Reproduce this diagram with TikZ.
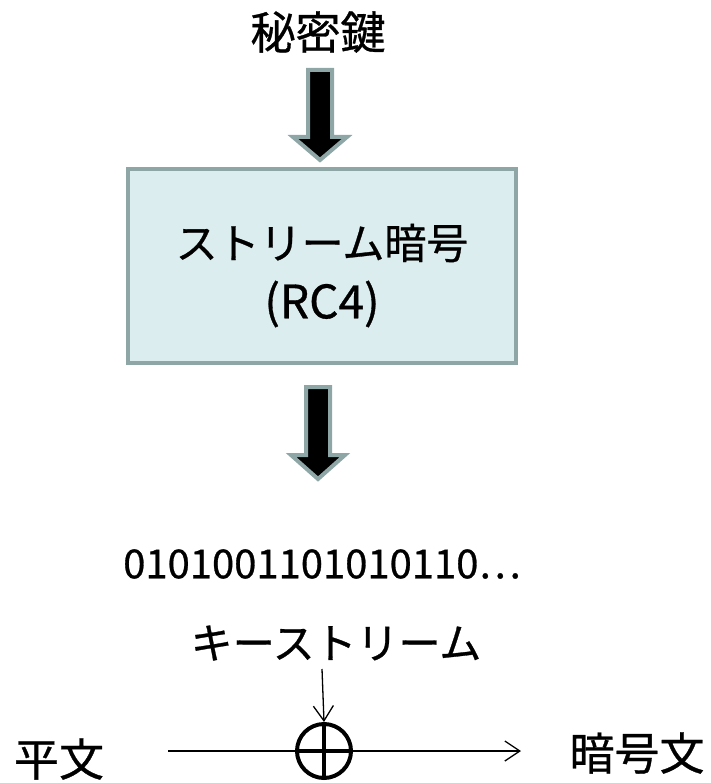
\documentclass[tikz,border=0pt]{standalone}
\usepackage{fontspec}
\setmainfont{Noto Sans CJK JP}[FakeBold=0.7]
\usetikzlibrary{arrows.meta,calc}
\definecolor{edgegray}{HTML}{8FA6A7}
\definecolor{boxfill}{HTML}{DBEDEF}
\tikzset{
  lbl/.style={inner sep=0pt, anchor=center, font=\fontsize{#1}{#1}\selectfont},
  fatarrow/.style={fill=black, draw=edgegray, line width=4pt, line join=miter},
  thinline/.style={line width=1.3pt},
}
\begin{document}
\begin{tikzpicture}[x=1pt,y=-1pt]
\useasboundingbox (0,0) rectangle (710,783);
% texts
\node[lbl=45] (key) at (318,32) {秘密鍵};
\node[draw=edgegray, fill=boxfill, line width=4pt, minimum width=388pt, minimum height=193pt, inner sep=0pt] (box) at (322,266) {};
\node[lbl=42] (l1) at (322,243) {ストリーム暗号};
\node[lbl=46] (l2) at (322,304) {(RC4)};
\node[lbl=40] (stream) at (322,564) {0101001101010110…};
\node[lbl=42] (ks) at (336,643) {キーストリーム};
\node[lbl=45] (plain) at (59,759) {平文};
\node[lbl=45] (cipher) at (637,753) {暗号文};
% fat arrows
\path[fatarrow] (308,70) -- (332,70) -- (332,137) -- (347,137) -- (320,160) -- (293,137) -- (308,137) -- cycle;
\path[fatarrow] (306,387) -- (330,387) -- (330,455) -- (345,455) -- (318,479) -- (291,455) -- (306,455) -- cycle;
% xor
\node[circle, draw, line width=4pt, minimum size=54pt, inner sep=0pt] (xor) at (324,751) {};
\draw[line width=4pt] (xor.north) -- (xor.south);
\draw[line width=4pt] (xor.west) -- (xor.east);
\coordinate (pin) at (168,751);
\coordinate (pout) at (521,751);
\coordinate (kstop) at (322,669);
\draw[thinline] (pin) -- (xor.west);
\draw[thinline, -{Straight Barb[length=15pt,width=20pt]}] (xor.east) -- (pout);
\draw[thinline, -{Straight Barb[length=15pt,width=20pt]}] (kstop) -- (xor.north);
\end{tikzpicture}
\end{document}
